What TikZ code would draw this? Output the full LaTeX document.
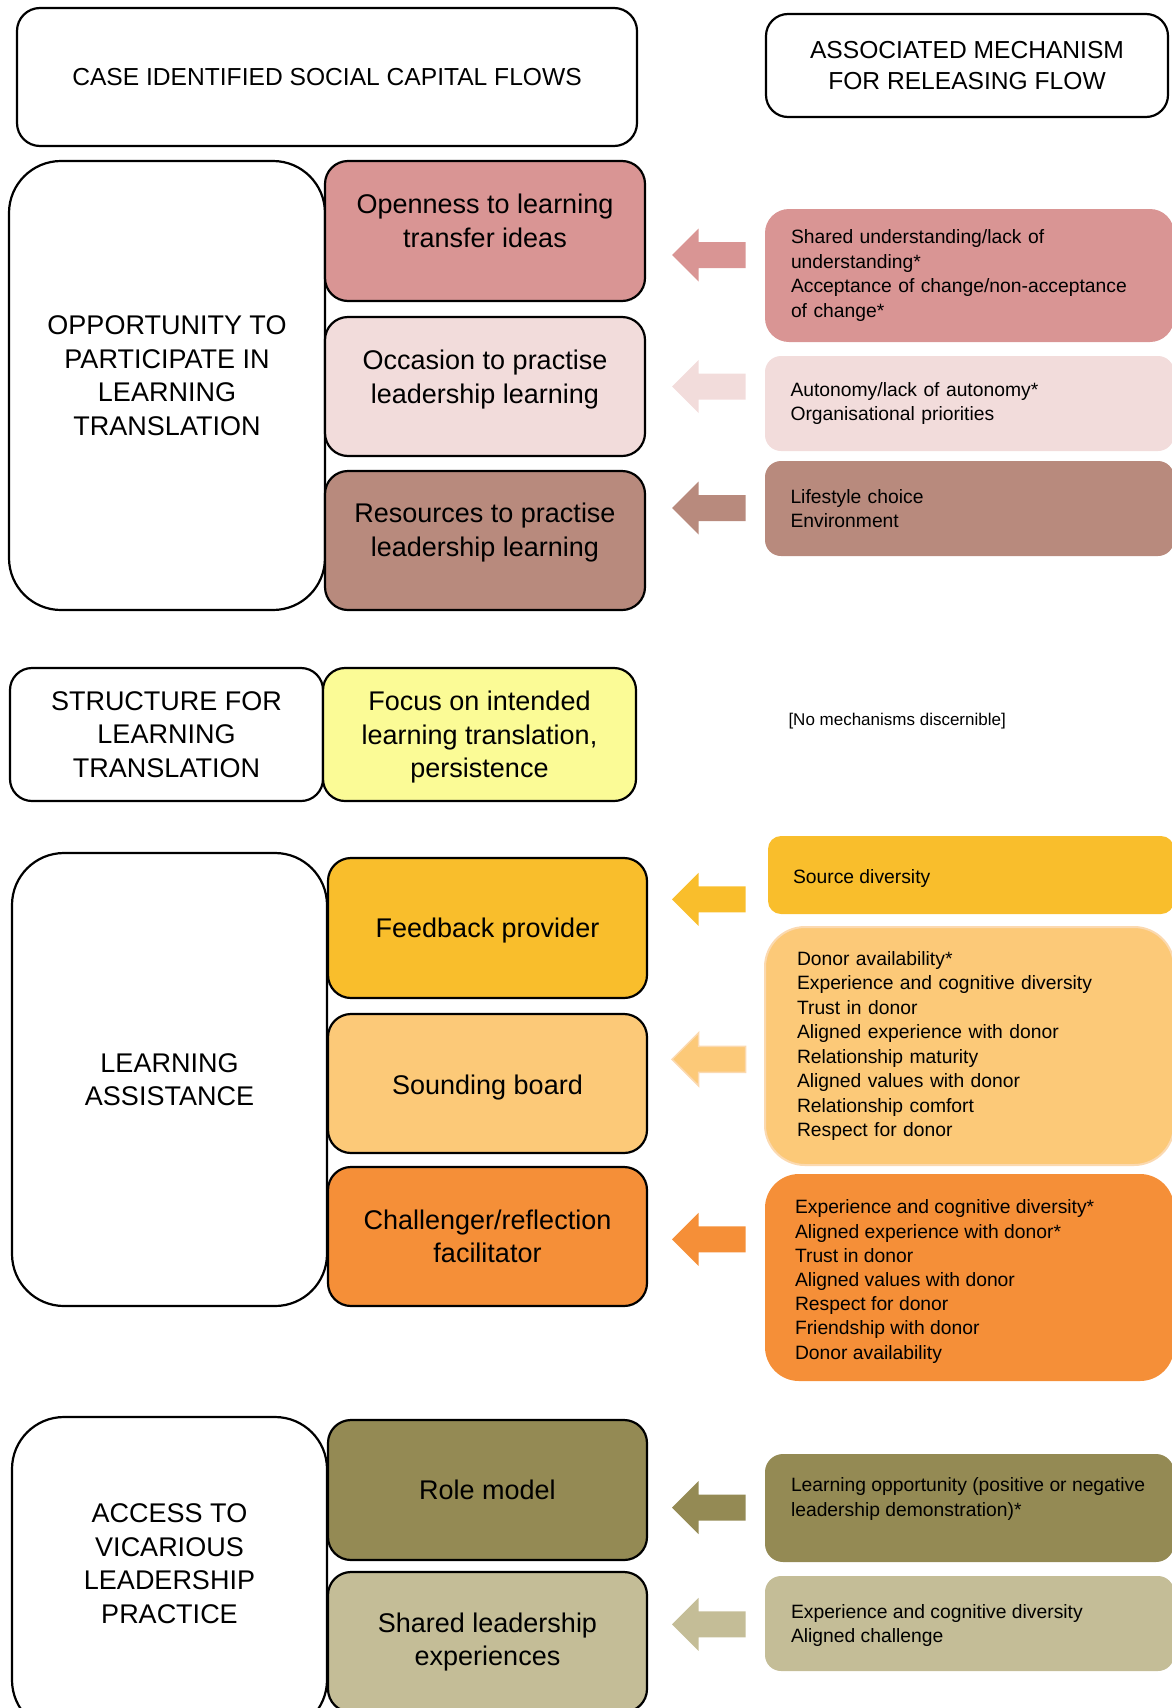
\documentclass[tikz,border=0pt]{standalone}
\usepackage{fontspec}
\setmainfont{Liberation Sans}

\definecolor{cOpen}{HTML}{D99594}
\definecolor{cOcc}{HTML}{F2DCDB}
\definecolor{cRes}{HTML}{B88A7D}
\definecolor{cFocus}{HTML}{FBFB96}
\definecolor{cFeed}{HTML}{F9BE2C}
\definecolor{cSound}{HTML}{FCC978}
\definecolor{cSoundEdge}{HTML}{FBD9B0}
\definecolor{cChal}{HTML}{F58F38}
\definecolor{cRole}{HTML}{948A54}
\definecolor{cShared}{HTML}{C4BD97}

% block arrow pointing left; #1 = vertical centre, #2 = path style
\newcommand\flowarrow[2]{%
  \path[#2] (672,#1) -- (698.5,#1-26.5) -- (698.5,#1-13) -- (745.5,#1-13)
    -- (745.5,#1+13) -- (698.5,#1+13) -- (698.5,#1+26.5) -- cycle;}

\begin{document}
\begin{tikzpicture}[x=1pt,y=-1pt,
  every node/.style={inner sep=0pt, outer sep=0pt},
  frame/.style={rectangle, draw=black, line width=2.2pt},
  bigtext/.style={font=\fontsize{27}{33.5}\selectfont, align=center},
  hdrtext/.style={font=\fontsize{24.6}{30.5}\selectfont, align=center},
  mech/.style={rectangle, font=\fontsize{19.3}{24.5}\selectfont, align=left},
  mechtext/.style={font=\fontsize{19.3}{24.5}\selectfont, align=left},
  notetext/.style={font=\fontsize{17}{21}\selectfont, anchor=west},
]
\useasboundingbox (0,0) rectangle (1172,1708);
\clip (0,0) rectangle (1172,1708);

% ---- column headings ----
\node[frame, hdrtext, rounded corners=23pt, minimum width=620pt, minimum height=138pt]
  (caseHdr) at (327,77) {CASE IDENTIFIED SOCIAL CAPITAL FLOWS};
\node[frame, hdrtext, rounded corners=22pt, minimum width=402pt, minimum height=103pt]
  (mechHdr) at (967,65.5) {ASSOCIATED MECHANISM\\FOR RELEASING FLOW};

% ---- opportunity to participate ----
\node[frame, fill=white, rounded corners=52pt, minimum width=316pt, minimum height=449pt]
  (opp) at (167,385.5) {};
\node[bigtext] (oppText) at ([yshift=10pt]opp.center)
  {OPPORTUNITY TO\\PARTICIPATE IN\\LEARNING\\TRANSLATION};

\node[frame, fill=cOpen, rounded corners=23pt, minimum width=320pt, minimum height=140pt]
  (openness) at (485,231) {};
\node[bigtext] (opennessText) at ([yshift=10pt]openness.center)
  {Openness to learning\\transfer ideas};
\node[frame, fill=cOcc, rounded corners=23pt, minimum width=320pt, minimum height=139pt]
  (occasion) at (485,386.5) {};
\node[bigtext] (occasionText) at ([yshift=7pt]occasion.center)
  {Occasion to practise\\leadership learning};
\node[frame, fill=cRes, rounded corners=23pt, minimum width=320pt, minimum height=139pt]
  (resources) at (485,540.5) {};
\node[bigtext] (resourcesText) at ([yshift=8pt]resources.center)
  {Resources to practise\\leadership learning};

\node[mech, fill=cOpen, rounded corners=24pt, minimum height=133pt,
  text width=357pt, inner xsep=26pt] (mechA) at (969.5,275.5)
  {Shared understanding/lack of\\understanding*\\Acceptance of change/non-acceptance\\of change*};
\node[mech, fill=cOcc, rounded corners=16pt, minimum height=95pt,
  text width=358pt, inner xsep=25.5pt] (mechB) at (969.5,403.5)
  {Autonomy/lack of autonomy*\\Organisational priorities};
\node[mech, fill=cRes, rounded corners=16pt, minimum height=95pt,
  text width=358pt, inner xsep=25.5pt] (mechC) at (969.5,508.5)
  {Lifestyle choice\\Environment};

\flowarrow{255}{fill=cOpen}
\flowarrow{386.5}{fill=cOcc}
\flowarrow{508}{fill=cRes}

% ---- structure for learning translation ----
\node[frame, fill=white, rounded corners=22pt, minimum width=313pt, minimum height=133pt]
  (struct) at (166.5,734.5) {};
\node[bigtext] (structText) at (struct.center) {STRUCTURE FOR\\LEARNING\\TRANSLATION};
\node[frame, fill=cFocus, rounded corners=22pt, minimum width=313pt, minimum height=133pt]
  (focus) at (479.5,734.5) {};
\node[bigtext] (focusText) at ([yshift=-3pt]focus.center)
  {Focus on intended\\learning translation,\\persistence};
\node[notetext] (noMech) at (788.5,721) {[No mechanisms discernible]};

% ---- learning assistance ----
\node[frame, fill=white, bigtext, rounded corners=52pt, minimum width=315pt, minimum height=453pt]
  (assist) at (169.5,1079.5) {LEARNING\\ASSISTANCE};
\node[frame, fill=cFeed, rounded corners=23pt, minimum width=319pt, minimum height=140pt]
  (feedback) at (487.5,928) {};
\node[bigtext] (feedbackText) at ([yshift=-3pt]feedback.center) {Feedback provider};
\node[frame, fill=cSound, rounded corners=23pt, minimum width=319pt, minimum height=139pt]
  (sounding) at (487.5,1083.5) {};
\node[bigtext] (soundingText) at ([yshift=-4pt]sounding.center) {Sounding board};
\node[frame, fill=cChal, bigtext, rounded corners=23pt, minimum width=319pt, minimum height=139pt]
  (challenger) at (487.5,1236.5) {Challenger/reflection\\facilitator};

\node[mech, fill=cFeed, rounded corners=13pt, minimum height=78pt,
  text width=356pt, inner xsep=25pt] (mechD) at (971,875) {};
\node[mechtext, anchor=west] (mechDText) at ([xshift=25pt,yshift=-3pt]mechD.west) {Source diversity};
\node[mech, fill=cSound, draw=cSoundEdge, line width=2pt, rounded corners=40pt, minimum height=238pt,
  text width=345pt, inner xsep=32pt] (mechE) at (969.5,1046)
  {Donor availability*\\Experience and cognitive diversity\\Trust in donor\\Aligned experience with donor\\Relationship maturity\\Aligned values with donor\\Relationship comfort\\Respect for donor};
\node[rectangle, fill=cChal, rounded corners=34pt, minimum width=409pt, minimum height=207pt]
  (mechF) at (969.5,1277.5) {};
\node[mechtext, font=\fontsize{19.3}{24.2}\selectfont, anchor=west] (mechFText)
  at ([xshift=30pt,yshift=-4pt]mechF.west)
  {Experience and cognitive diversity*\\Aligned experience with donor*\\Trust in donor\\Aligned values with donor\\Respect for donor\\Friendship with donor\\Donor availability};

\flowarrow{899.3}{fill=cFeed}
\flowarrow{1059.3}{fill=cSound, draw=cSoundEdge, line width=1.5pt}
\flowarrow{1239.3}{fill=cChal}

% ---- access to vicarious leadership practice ----
\node[frame, fill=white, rounded corners=52pt, minimum width=315pt, minimum height=315pt]
  (access) at (169.5,1574.5) {};
\node[bigtext] (accessText) at ([yshift=11pt]access.center)
  {ACCESS TO\\VICARIOUS\\LEADERSHIP\\PRACTICE};
\node[frame, fill=cRole, bigtext, rounded corners=23pt, minimum width=319pt, minimum height=140pt]
  (role) at (487.5,1490) {Role model};
\node[frame, fill=cShared, bigtext, rounded corners=23pt, minimum width=319pt, minimum height=140pt]
  (shared) at (487.5,1642) {Shared leadership\\experiences};

\node[rectangle, fill=cRole, rounded corners=18pt, minimum width=409pt, minimum height=108pt]
  (mechG) at (969.5,1508) {};
\node[mechtext, anchor=west] (mechGText) at ([xshift=26pt,yshift=9pt]mechG.west)
  {Learning opportunity (positive or negative\\leadership demonstration)*};
\node[rectangle, fill=cShared, rounded corners=16pt, minimum width=409pt, minimum height=95pt]
  (mechH) at (969.5,1623.5) {};
\node[mechtext, anchor=west] (mechHText) at ([xshift=26pt,yshift=-2pt]mechH.west)
  {Experience and cognitive diversity\\Aligned challenge};

\flowarrow{1507.5}{fill=cRole}
\flowarrow{1624.3}{fill=cShared}
\end{tikzpicture}
\end{document}
